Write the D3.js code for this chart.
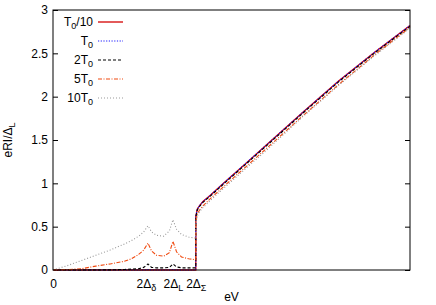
<!DOCTYPE html>
<meta charset="utf-8">
<title>eRI vs eV</title>
<style>
body { margin: 0; background: white; }
svg { font-family: "Liberation Sans", Arial, sans-serif; font-size: 12px; }
</style>
<body>
<script src="https://d3js.org/d3.v7.min.js"></script>
<script>

// energy grid (in arbitrary units, 2ΔΣ = 2)
const ev = [0, 0.2, 0.4, 0.6, 0.8, 1.0, 1.1, 1.2, 1.27, 1.33, 1.38, 1.45, 1.55, 1.63, 1.68, 1.73, 1.8, 1.9, 1.98, 2.0,
            2.0, 2.02, 2.05, 2.1, 2.2, 2.4, 2.7, 3.0, 3.5, 4.0, 4.5, 5.0];

const tenth = [0, 0, 0, 0, 0, 0, 0, 0, 0, 0, 0, 0, 0, 0, 0, 0, 0, 0, 0, 0,
               0.62, 0.70, 0.74, 0.79, 0.86, 1.01, 1.23, 1.45, 1.82, 2.18, 2.51, 2.82];
const t1 = [0, 0, 0, 0, 0, 0, 0, 0, 0, 0.005, 0, 0, 0, 0, 0.005, 0, 0, 0, 0, 0,
            0.62, 0.70, 0.74, 0.79, 0.86, 1.01, 1.23, 1.45, 1.82, 2.18, 2.51, 2.82];
const t2 = [0, 0, 0, 0, 0.002, 0.006, 0.01, 0.015, 0.03, 0.07, 0.03, 0.025, 0.025, 0.03, 0.07, 0.035, 0.025, 0.025, 0.025, 0.025,
            0.61, 0.69, 0.73, 0.78, 0.85, 1.00, 1.22, 1.44, 1.81, 2.17, 2.50, 2.81];
const t5 = [0, 0.005, 0.015, 0.045, 0.07, 0.10, 0.13, 0.18, 0.23, 0.31, 0.22, 0.17, 0.16, 0.20, 0.33, 0.21, 0.15, 0.13, 0.12, 0.12,
            0.56, 0.64, 0.69, 0.74, 0.82, 0.97, 1.19, 1.41, 1.78, 2.14, 2.48, 2.80];
const t10 = [0, 0.05, 0.11, 0.17, 0.23, 0.30, 0.34, 0.39, 0.44, 0.51, 0.44, 0.40, 0.39, 0.45, 0.58, 0.47, 0.41, 0.38, 0.37, 0.37,
             0.55, 0.62, 0.67, 0.72, 0.80, 0.95, 1.17, 1.39, 1.77, 2.13, 2.47, 2.79];

const names = ["T0/10", "T0", "2T0", "5T0", "10T0"];
const colors = ["#d40000", "#1a1aff", "#000000", "#f04a10", "#999999"];
const dashes = [null, "1.2,1.5", "3,2", "4,1.5,1,1.5", "1,2"];
const allSeries = [tenth, t1, t2, t5, t10];

const yTicks = [0, 0.5, 1, 1.5, 2, 2.5, 3];
const xTickVals = [0, 1.3, 1.68, 2.0];
const xTickLabels = [["0", ""], ["2Δ", "δ"], ["2Δ", "L"], ["2Δ", "Σ"]];

const W = 436, H = 305;
const margin = {top: 10, right: 26, bottom: 35, left: 53};
const width = W - margin.left - margin.right,
      height = H - margin.top - margin.bottom;

const svg = d3.select("body").append("svg")
    .attr("width", W).attr("height", H)
  .append("g")
    .attr("transform", "translate(" + margin.left + "," + margin.top + ")");

const x = d3.scaleLinear().domain([0, 5]).range([0, width]);
const y = d3.scaleLinear().domain([0, 3]).range([height, 0]);

// y axis left + mirrored right
const yl = svg.append("g")
    .call(d3.axisLeft(y).tickValues(yTicks).tickFormat(d3.format("")).tickSizeInner(-5).tickSizeOuter(0).tickPadding(5));
yl.select(".domain").remove();
yl.selectAll("text").style("font-size", "12px").attr("fill", "#000");

const yr = svg.append("g")
    .attr("transform", "translate(" + width + ",0)")
    .call(d3.axisRight(y).tickValues(yTicks).tickSizeInner(-5).tickSizeOuter(0).tickFormat(""));
yr.select(".domain").remove();

// x axis labels with subscripts
const xa = svg.append("g")
    .attr("transform", "translate(0," + height + ")")
    .call(d3.axisBottom(x).tickValues(xTickVals).tickSize(0).tickPadding(9).tickFormat(""));
xa.select(".domain").remove();
xa.selectAll(".tick text").each(function(d, i) {
  const t = d3.select(this).attr("fill", "#000").style("font-size", "12px");
  t.append("tspan").text(xTickLabels[i][0]);
  if (xTickLabels[i][1]) t.append("tspan").attr("dy", "3").style("font-size", "9px").text(xTickLabels[i][1]);
});

// curves
const line = d3.line()
    .x((d, i) => x(ev[i]))
    .y(d => y(d));

allSeries.forEach(function(s, k) {
  svg.append("path")
    .datum(s)
    .attr("fill", "none")
    .attr("stroke", colors[k])
    .attr("stroke-width", k == 0 ? 1.3 : 1.1)
    .attr("stroke-dasharray", dashes[k])
    .attr("d", line);
});

// frame
svg.append("rect")
    .attr("width", width).attr("height", height)
    .attr("fill", "none").attr("stroke", "#000").attr("stroke-width", 1);

// legend
const leg = svg.append("g");
names.forEach(function(n, k) {
  const ly = 12 + k * 19;
  const t = leg.append("text").attr("x", 40).attr("y", ly + 4).attr("text-anchor", "end");
  const m = n.match(/^(\d*)T0(.*)$/);
  t.append("tspan").text(m[1] + "T");
  t.append("tspan").attr("dy", "3").style("font-size", "9px").text("0");
  if (m[2]) t.append("tspan").attr("dy", "-3").text(m[2]);
  leg.append("line")
    .attr("x1", 45).attr("x2", 70).attr("y1", ly).attr("y2", ly)
    .attr("stroke", colors[k]).attr("stroke-width", k == 0 ? 1.3 : 1.1)
    .attr("stroke-dasharray", dashes[k]);
});

// axis titles
svg.append("text")
    .attr("x", width / 2).attr("y", height + 31)
    .attr("text-anchor", "middle").text("eV");

const yt = svg.append("text")
    .attr("transform", "translate(-41," + (height / 2) + ")rotate(-90)")
    .attr("text-anchor", "middle");
yt.append("tspan").text("eRI/Δ");
yt.append("tspan").attr("dy", "3").style("font-size", "9px").text("L");

</script>
</body>
